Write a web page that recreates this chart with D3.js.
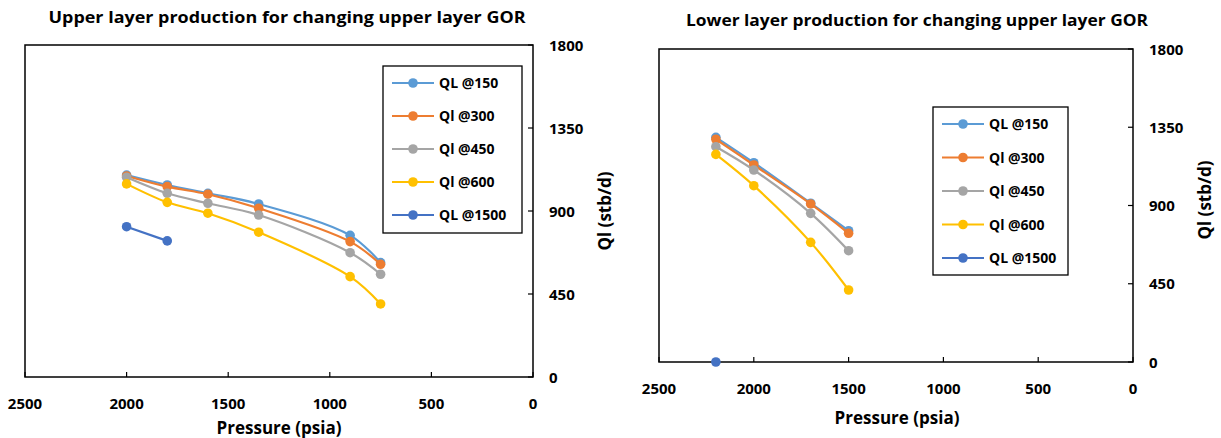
<!DOCTYPE html>
<html>
<head>
<meta charset="utf-8">
<script src="https://cdn.jsdelivr.net/npm/d3@7"></script>
<style>
  body { margin: 0; background: #fff; }
  text { font-family: "Open Sans", "Liberation Sans", sans-serif; font-weight: bold; fill: #000; }
</style>
</head>
<body>
<div id="container"></div>
<script>
// DATA
let seriesNames = ["QL @150", "Ql @300", "Ql @450", "Ql @600", "QL @1500"];
let seriesColors = ["#5B9BD5", "#ED7D31", "#A5A5A5", "#FFC000", "#4472C4"];
let xTicks = [2500, 2000, 1500, 1000, 500, 0];
let yTicks = [0, 450, 900, 1350, 1800];

// upper layer chart
let upperPressure = [2000, 1800, 1600, 1350, 900, 750];
let upperQ150 = [1095, 1041, 996, 938, 768, 620];
let upperQ300 = [1090, 1032, 991, 915, 734, 611];
let upperQ450 = [1083, 996, 942, 878, 674, 557];
let upperQ600 = [1047, 947, 888, 785, 544, 396];
let upperPressure1500 = [2000, 1800];
let upperQ1500 = [815, 738];

// lower layer chart
let lowerPressure = [2200, 2000, 1700, 1500];
let lowerQ150 = [1292, 1146, 913, 755];
let lowerQ300 = [1281, 1133, 909, 740];
let lowerQ450 = [1238, 1104, 855, 640];
let lowerQ600 = [1194, 1014, 688, 414];
let lowerPressure1500 = [2200];
let lowerQ1500 = [0];

let w = 1221;
let h = 438;

let viz = d3.select("#container").append("svg")
    .attr("width", w)
    .attr("height", h)
    .style("background-color", "white");

function makeSeries(pressures, values) {
  return pressures.map(function(p, i){ return {p: p, q: values[i]}; });
}

function drawChart(cfg) {
  let g = viz.append("g");
  let xScale = d3.scaleLinear().domain([2500, 0]).range([cfg.left, cfg.right]);
  let yScale = d3.scaleLinear().domain([0, 1800]).range([cfg.bottom, cfg.top]);

  // title
  g.append("text")
    .attr("x", cfg.titleX).attr("y", cfg.titleY)
    .attr("text-anchor", "middle")
    .attr("textLength", cfg.titleLen)
    .attr("lengthAdjust", "spacingAndGlyphs")
    .style("font-size", "16.5px")
    .text(cfg.title);

  // frame
  g.append("rect")
    .attr("x", cfg.left).attr("y", cfg.top)
    .attr("width", cfg.right - cfg.left)
    .attr("height", cfg.bottom - cfg.top)
    .attr("fill", "none")
    .attr("stroke", "#000")
    .attr("stroke-width", 1.5);

  // x ticks (inside) + labels
  g.selectAll(".xtick").data(xTicks).enter().append("line")
    .attr("x1", function(d){ return xScale(d); })
    .attr("x2", function(d){ return xScale(d); })
    .attr("y1", cfg.bottom).attr("y2", cfg.bottom - 5)
    .attr("stroke", "#000").attr("stroke-width", 1.2);
  g.selectAll(".xlab").data(xTicks).enter().append("text")
    .attr("x", function(d){ return xScale(d); })
    .attr("y", cfg.bottom + cfg.xLabOff)
    .attr("text-anchor", "middle")
    .style("font-size", "15px")
    .text(function(d){ return d; });
  g.append("text")
    .attr("x", (cfg.left + cfg.right) / 2 + cfg.xTitleShift)
    .attr("y", cfg.bottom + cfg.xTitleOff)
    .attr("text-anchor", "middle")
    .style("font-size", "17px")
    .text("Pressure (psia)");

  // y ticks (inside, right side) + labels
  g.selectAll(".ytick").data(yTicks).enter().append("line")
    .attr("x1", cfg.right).attr("x2", cfg.right - 5)
    .attr("y1", function(d){ return yScale(d); })
    .attr("y2", function(d){ return yScale(d); })
    .attr("stroke", "#000").attr("stroke-width", 1.2);
  g.selectAll(".ylab").data(yTicks).enter().append("text")
    .attr("x", cfg.right + 16)
    .attr("y", function(d){ return yScale(d) + 5.5; })
    .attr("text-anchor", "start")
    .style("font-size", "15px")
    .text(function(d){ return d; });
  g.append("text")
    .attr("transform", "translate(" + cfg.yTitleX + "," + cfg.yTitleY + ") rotate(-90)")
    .attr("text-anchor", "middle")
    .style("font-size", "17px")
    .text("Ql (stb/d)");

  // series
  let lineMaker = d3.line()
    .x(function(d){ return xScale(d.p); })
    .y(function(d){ return yScale(d.q); })
    .curve(d3.curveCatmullRom.alpha(0.5));

  cfg.series.forEach(function(s, i){
    g.append("path")
      .attr("d", lineMaker(s))
      .attr("fill", "none")
      .attr("stroke", seriesColors[i])
      .attr("stroke-width", 2.2);
    g.selectAll(".pt" + i).data(s).enter().append("circle")
      .attr("cx", function(d){ return xScale(d.p); })
      .attr("cy", function(d){ return yScale(d.q); })
      .attr("r", 4.8)
      .attr("fill", seriesColors[i]);
  });

  // legend
  let lg = g.append("g");
  lg.append("rect")
    .attr("x", cfg.legX).attr("y", cfg.legY)
    .attr("width", cfg.legW).attr("height", cfg.legH)
    .attr("fill", "white")
    .attr("stroke", "#000")
    .attr("stroke-width", 1.3);
  seriesNames.forEach(function(name, i){
    let yy = cfg.legY + 17 + i * cfg.legStep;
    lg.append("line")
      .attr("x1", cfg.legX + 9).attr("x2", cfg.legX + 51)
      .attr("y1", yy).attr("y2", yy)
      .attr("stroke", seriesColors[i]).attr("stroke-width", 2.2);
    lg.append("circle")
      .attr("cx", cfg.legX + 30).attr("cy", yy).attr("r", 4.8)
      .attr("fill", seriesColors[i]);
    lg.append("text")
      .attr("x", cfg.legX + 56).attr("y", yy + 5)
      .style("font-size", "14px")
      .text(name);
  });
}

drawChart({
  title: "Upper layer production  for changing upper layer GOR",
  titleX: 287, titleY: 23, titleLen: 477,
  left: 25, right: 533, top: 45, bottom: 377,
  xLabOff: 32, xTitleOff: 57, xTitleShift: 0,
  yTitleX: 611, yTitleY: 211,
  legX: 383, legY: 66, legW: 139, legH: 167, legStep: 33,
  series: [
    makeSeries(upperPressure, upperQ150),
    makeSeries(upperPressure, upperQ300),
    makeSeries(upperPressure, upperQ450),
    makeSeries(upperPressure, upperQ600),
    makeSeries(upperPressure1500, upperQ1500)
  ]
});

drawChart({
  title: "Lower layer production  for changing upper layer GOR",
  titleX: 917, titleY: 26, titleLen: 462,
  left: 659, right: 1133, top: 49, bottom: 362,
  xLabOff: 32, xTitleOff: 62, xTitleShift: 1,
  yTitleX: 1211, yTitleY: 200,
  legX: 933, legY: 107, legW: 135, legH: 168, legStep: 33.5,
  series: [
    makeSeries(lowerPressure, lowerQ150),
    makeSeries(lowerPressure, lowerQ300),
    makeSeries(lowerPressure, lowerQ450),
    makeSeries(lowerPressure, lowerQ600),
    makeSeries(lowerPressure1500, lowerQ1500)
  ]
});
</script>
</body>
</html>
